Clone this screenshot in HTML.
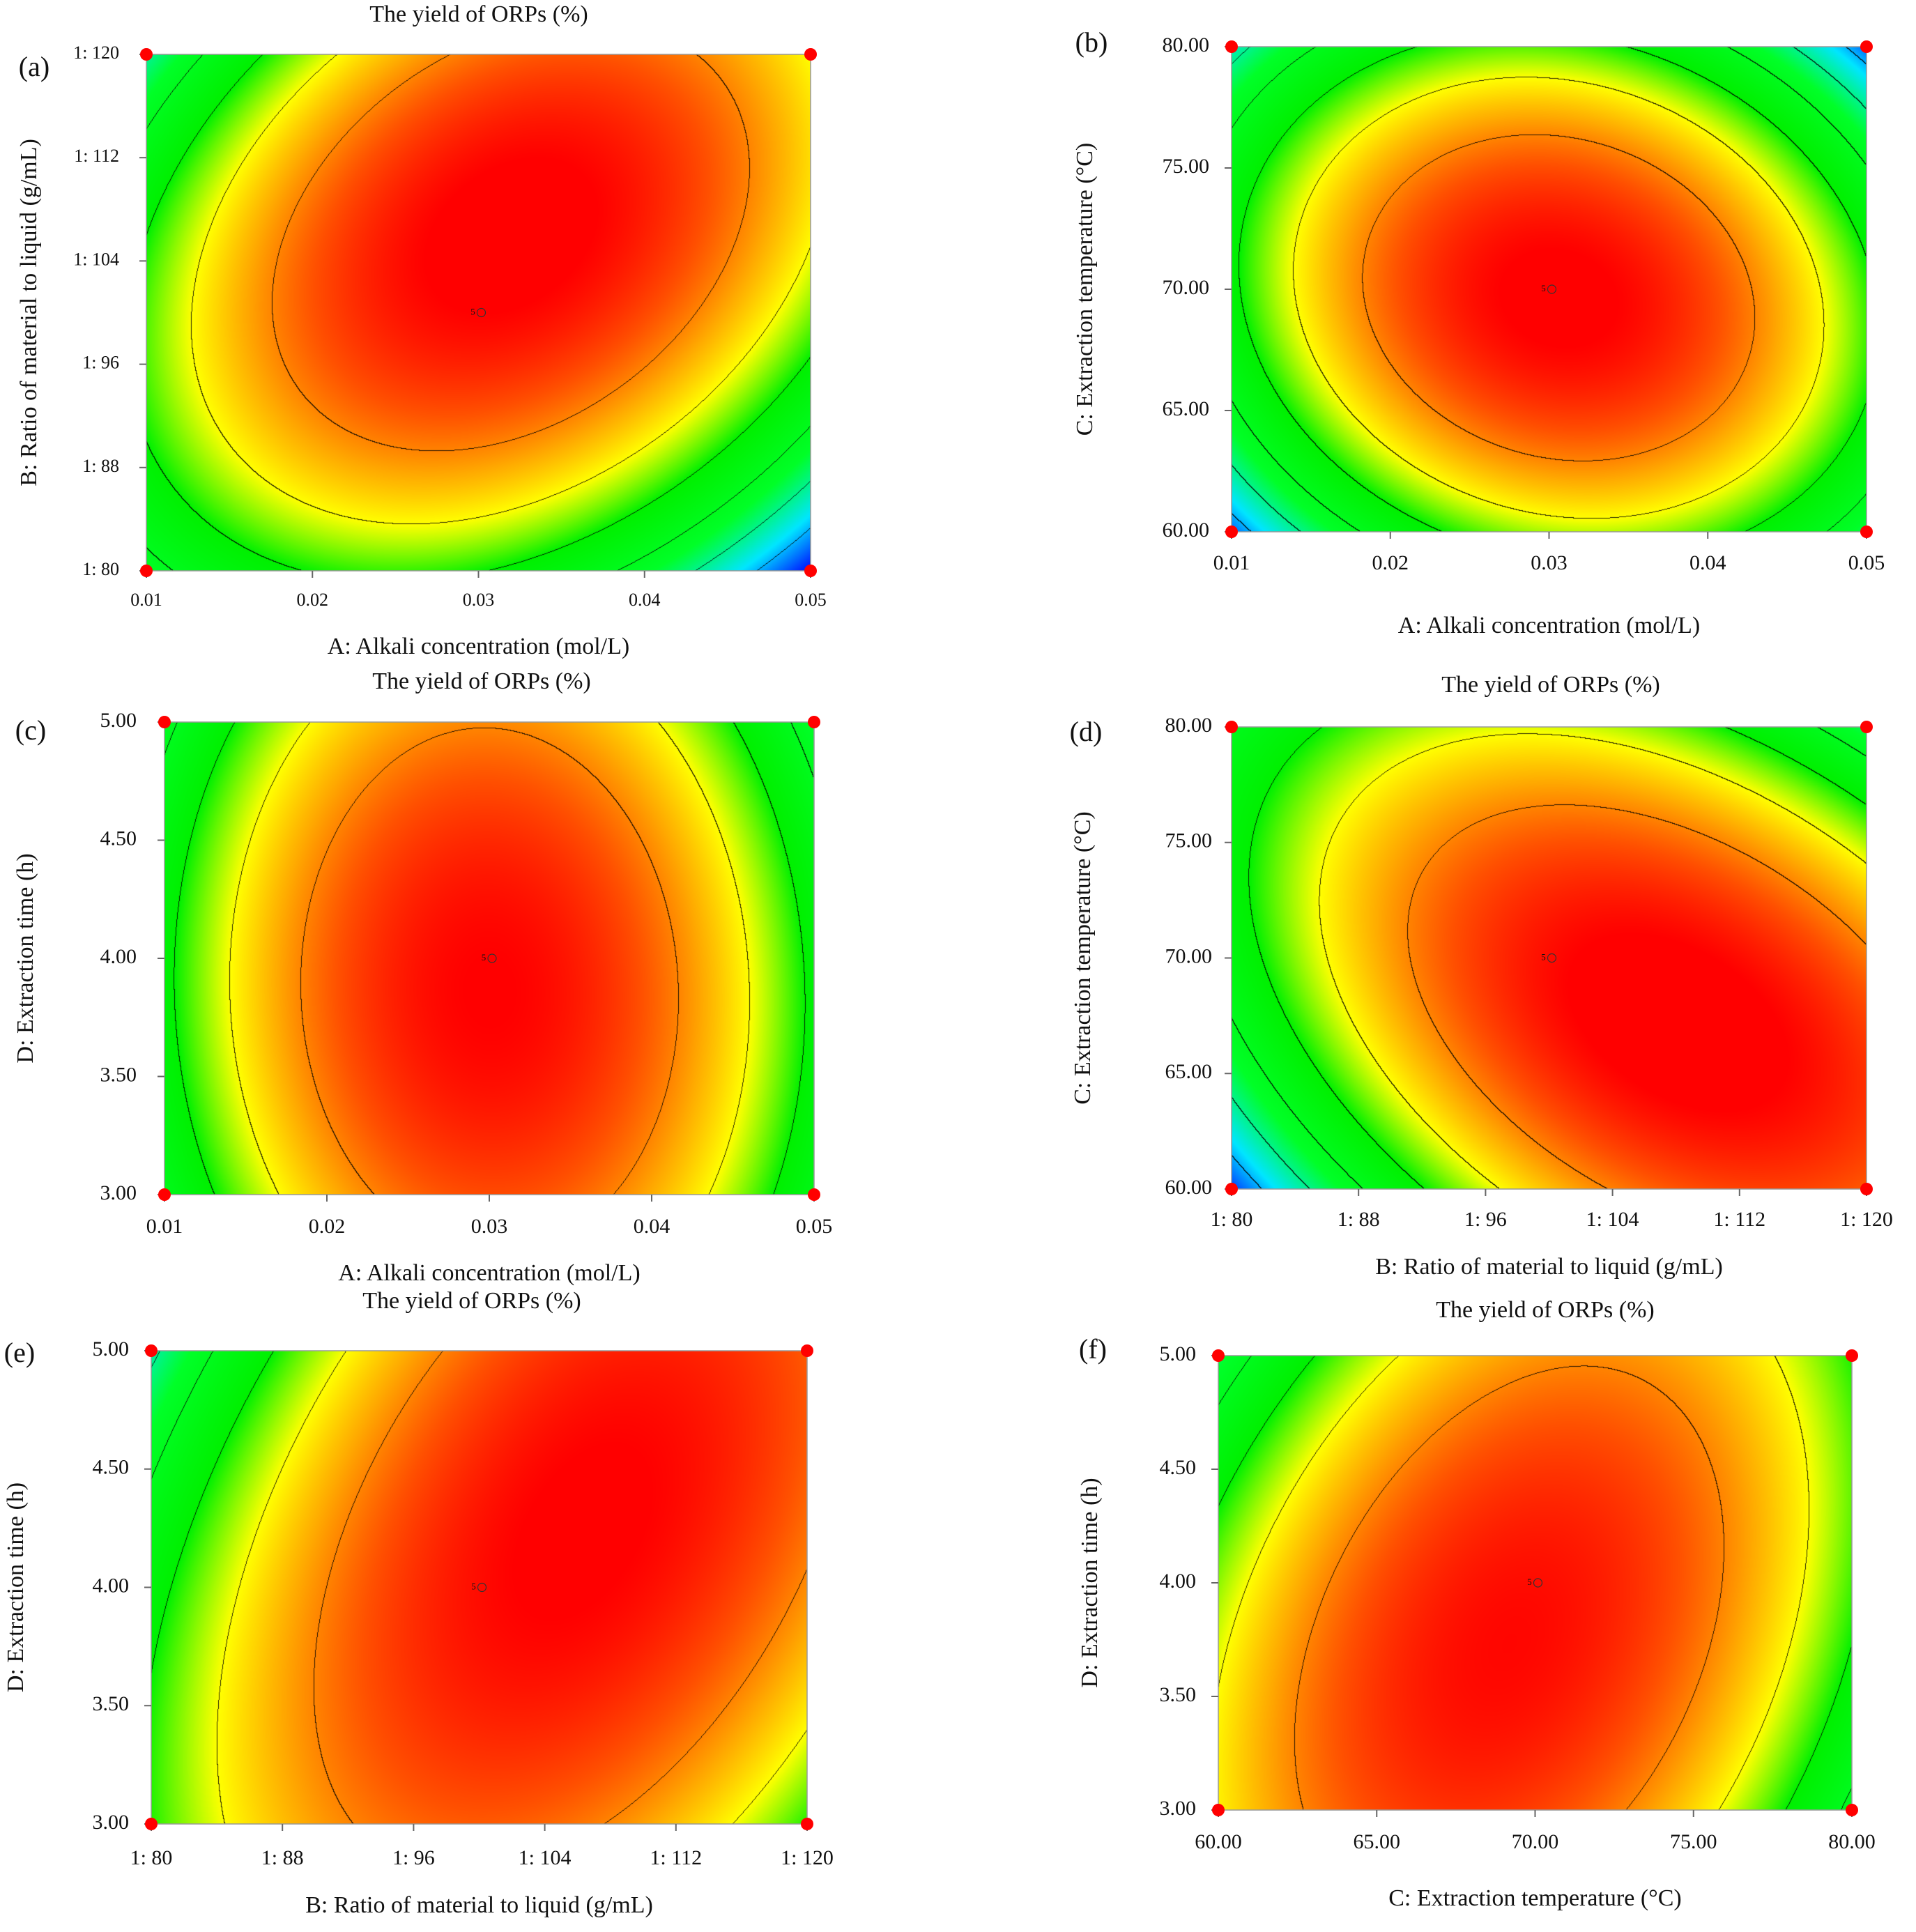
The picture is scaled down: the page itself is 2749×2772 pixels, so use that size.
<!DOCTYPE html>
<html><head><meta charset="utf-8">
<style>
html,body{margin:0;padding:0;background:#fff;}
#root{position:relative;width:2749px;height:2772px;overflow:hidden;background:#fff;font-family:"Liberation Serif",serif;}
canvas{position:absolute;}
svg{position:absolute;left:0;top:0;}
</style></head>
<body>
<div id="root">
<svg id="ov" width="2749" height="2772"></svg>
</div>
<script>
// Response-surface coefficients per panel: [b0, linX, linY, interXY, quadX, quadY] (coded units)
const coefA = [16.1, 0.1, 1.05, 1.45, 2.7, 2.0];
const coefB = [16.2, 0.175, -0.175, -0.725, 3.2, 2.7];
const coefC = [16.1, 0.0, -0.25, -0.1, 3.3, 0.9];
const coefD = [16.0, 1.325, -0.325, -1.675, 2.2, 1.8];
const coefE = [16.0, 1.125, -0.025, 1.125, 2.2, 0.7];
const coefF = [16.0, -0.15, -0.35, 1.0, 2.6, 0.8];
// contour levels
const levels = [10, 11, 12, 13, 14, 15];
// tick labels
const ticksAlkali = ["0.01","0.02","0.03","0.04","0.05"];
const ticksRatio = ["1: 80","1: 88","1: 96","1: 104","1: 112","1: 120"];
const ticksTemp = ["60.00","65.00","70.00","75.00","80.00"];
const ticksTime = ["3.00","3.50","4.00","4.50","5.00"];

const titleA="A: Alkali  concentration (mol/L)", titleB="B: Ratio of material to liquid (g/mL)",
      titleC="C: Extraction temperature (\u00B0C)", titleD="D: Extraction time (h)";

const panels = [
 {id:"a",coef:coefA,xt:ticksAlkali,yt:ticksRatio,xl:titleA,yl:titleB,L:210,R:1163,T:78,B:819,tx:687,ty:23,lx:49,ly:100,ylx:171,xly:863,xtly:930,ytx:44,fs:26},
 {id:"b",coef:coefB,xt:ticksAlkali,yt:ticksTemp,xl:titleA,yl:titleC,L:1767,R:2678,T:67,B:763,tx:null,lx:1566,ly:65,ylx:1735,xly:810,xtly:900,ytx:1559,fs:30},
 {id:"c",coef:coefC,xt:ticksAlkali,yt:ticksTime,xl:titleA,yl:titleD,L:236,R:1168,T:1036,B:1714,tx:691,ty:980,lx:44,ly:1052,ylx:196,xly:1762,xtly:1829,ytx:39,fs:30},
 {id:"d",coef:coefD,xt:ticksRatio,yt:ticksTemp,xl:titleB,yl:titleC,L:1767,R:2678,T:1043,B:1706,tx:2225,ty:985,lx:1558,ly:1054,ylx:1739,xly:1752,xtly:1820,ytx:1556,fs:30},
 {id:"e",coef:coefE,xt:ticksRatio,yt:ticksTime,xl:titleB,yl:titleD,L:217,R:1158,T:1938,B:2617,tx:677,ty:1869,lx:28,ly:1945,ylx:185,xly:2668,xtly:2736,ytx:25,fs:30},
 {id:"f",coef:coefF,xt:ticksTemp,yt:ticksTime,xl:titleC,yl:titleD,L:1748,R:2657,T:1945,B:2597,tx:2217,ty:1882,lx:1568,ly:1940,ylx:1716,xly:2645,xtly:2726,ytx:1566,fs:30}
];

const stops=[[9.2,[0,40,255]],[10.3,[0,230,255]],[11.6,[0,255,40]],[13.0,[0,240,0]],[14.0,[255,255,0]],[14.7,[255,170,0]],[15.4,[255,80,0]],[16.1,[255,0,0]]];
function col(z){
  if(z<=stops[0][0])return stops[0][1];
  for(let i=1;i<stops.length;i++){ if(z<=stops[i][0]){const a=stops[i-1],b=stops[i];const t=(z-a[0])/(b[0]-a[0]);
    return [0,1,2].map(k=>a[1][k]+(b[1][k]-a[1][k])*t);} }
  return stops[stops.length-1][1];
}
function f(c,x,y){return c[0]+c[1]*x+c[2]*y+c[3]*x*y-c[4]*x*x-c[5]*y*y;}

const root=document.getElementById('root');
const svg=document.getElementById('ov');
const NS="http://www.w3.org/2000/svg";
function T(x,y,s,size,anchor,name,rot){
  const t=document.createElementNS(NS,'text');
  t.setAttribute('x',x);t.setAttribute('y',y);t.setAttribute('font-size',size);
  t.setAttribute('text-anchor',anchor||'middle');t.setAttribute('dominant-baseline','middle');
  t.setAttribute('font-family','"Liberation Serif", serif');t.setAttribute('fill','#111');
  if(rot)t.setAttribute('transform','rotate(-90 '+x+' '+y+')');
  t.textContent=s;
  
  
  svg.appendChild(t);return t;
}
function E(tag,attrs,name){const e=document.createElementNS(NS,tag);for(const k in attrs)e.setAttribute(k,attrs[k]);
  
  
  svg.appendChild(e);return e;}

panels.forEach(p=>{
  const w=p.R-p.L,h=p.B-p.T;
  const cv=document.createElement('canvas');
  cv.width=w;cv.height=h;cv.style.left=p.L+'px';cv.style.top=p.T+'px';
  
  
  root.insertBefore(cv,svg);
  const ctx=cv.getContext('2d');const img=ctx.createImageData(w,h);
  const Z=new Float32Array(w*h);
  for(let j=0;j<h;j++)for(let i=0;i<w;i++){const x=-1+2*i/(w-1),y=1-2*j/(h-1);Z[j*w+i]=f(p.coef,x,y);}
  const band=z=>{let b=0;for(const l of levels)if(z>=l)b++;return b;};
  for(let j=0;j<h;j++)for(let i=0;i<w;i++){
    const k=j*w+i;const z=Z[k];let c=col(z);
    const b0=band(z);
    let edge=false;
    if(i<w-1&&band(Z[k+1])!==b0)edge=true;
    if(j<h-1&&band(Z[k+w])!==b0)edge=true;
    if(edge)c=[c[0]*0.15,c[1]*0.15,c[2]*0.15];
    img.data[4*k]=c[0];img.data[4*k+1]=c[1];img.data[4*k+2]=c[2];img.data[4*k+3]=255;
  }
  ctx.putImageData(img,0,0);
  E('rect',{x:p.L,y:p.T,width:w,height:h,fill:'none',stroke:'#999','stroke-width':1.5},'plot-frame-'+p.id);
  p.xt.forEach((s,i)=>{const x=p.L+w*i/(p.xt.length-1);
    E('line',{x1:x,y1:p.B,x2:x,y2:p.B+10,stroke:'#666','stroke-width':2},'x-tick-'+p.id);
    T(x,p.xly,s,p.fs,'middle','x-tick-label-'+p.id);});
  p.yt.forEach((s,i)=>{const y=p.B-h*i/(p.yt.length-1);
    E('line',{x1:p.L-10,y1:y,x2:p.L,y2:y,stroke:'#666','stroke-width':2},'y-tick-'+p.id);
    T(p.ylx,y,s,p.fs,'end','y-tick-label-'+p.id);});
  T((p.L+p.R)/2,p.xtly,p.xl,34,'middle','x-axis-title-'+p.id);
  T(p.ytx,(p.T+p.B)/2,p.yl,34,'middle','y-axis-title-'+p.id,true);
  if(p.tx)T(p.tx,p.ty,"The yield of ORPs (%)",34,'middle','chart-title-'+p.id);
  T(p.lx,p.ly,"("+p.id+")",40,'middle','panel-label-'+p.id);
  [[p.L,p.T],[p.R,p.T],[p.L,p.B],[p.R,p.B]].forEach(q=>E('circle',{cx:q[0],cy:q[1],r:9,fill:'#f00'},'design-point-'+p.id));
  const cx=(p.L+p.R)/2,cy=(p.T+p.B)/2;
  E('circle',{cx:cx+4,cy:cy,r:6,fill:'none',stroke:'#333','stroke-width':1.2},'center-point-'+p.id);
  T(cx-8,cy,"5",13,'middle','center-count-'+p.id);
});
</script>
</body></html>
